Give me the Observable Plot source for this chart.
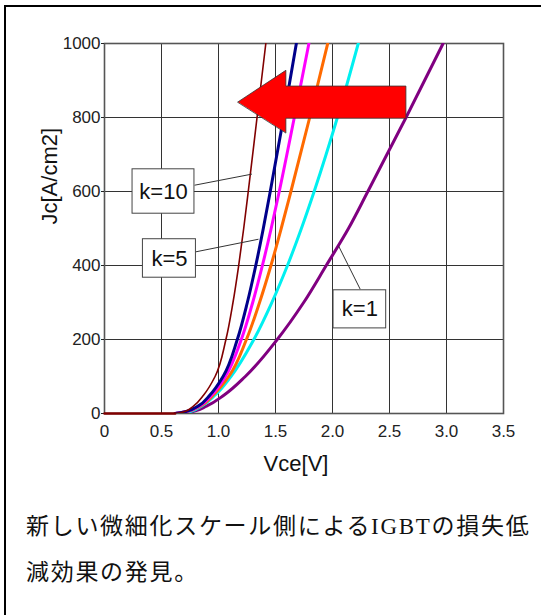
<!DOCTYPE html>
<html>
<head>
<meta charset="utf-8">
<script src="https://cdn.jsdelivr.net/npm/d3@7"></script>
<script src="https://cdn.jsdelivr.net/npm/@observablehq/plot@0.6"></script>
<style>
  html, body { margin: 0; padding: 0; background: #fff; overflow: hidden; }
  body { width: 541px; height: 615px; position: relative; }
  #frame { position: absolute; left: 4px; top: 5px; width: 700px; height: 700px;
           border-left: 2px solid #000; border-top: 2px solid #000; z-index: 2; pointer-events: none; }
  #chart { position: absolute; left: 0; top: 0; z-index: 1; }
  #caption { position: absolute; left: 26px; top: 504px; font-size: 23px; line-height: 46px;
             letter-spacing: 1.7px; color: #111; white-space: nowrap;
             font-family: "Liberation Serif", "Noto Sans CJK JP", serif; }
</style>
</head>
<body>
<div id="chart"></div>
<div id="frame"></div>
<div id="caption">新しい微細化スケール側によるIGBTの損失低<br>減効果の発見。</div>
<script>
// Current density levels (A/cm2) shared by all curves
const jLevels = [0, 5, 20, 50, 100, 200, 300, 400, 500, 600, 800, 1000];
// Vce (V) at each current level for each curve
const seriesNames = ["k=1", "c2", "c3", "c4", "c5", "k=10"];
const vPurple  = [0.62, 0.77, 0.895, 1.05, 1.235, 1.515, 1.747, 1.945, 2.14, 2.31, 2.645, 2.97];
const vCyan    = [0.62, 0.75, 0.851, 0.971, 1.109, 1.31, 1.468, 1.605, 1.727, 1.839, 2.043, 2.226];
const vOrange  = [0.62, 0.72, 0.84, 0.955, 1.09, 1.245, 1.36, 1.46, 1.55, 1.635, 1.80, 1.958];
const vMagenta = [0.62, 0.715, 0.83, 0.94, 1.06, 1.20, 1.30, 1.385, 1.462, 1.533, 1.665, 1.793];
const vNavy    = [0.62, 0.71, 0.82, 0.925, 1.04, 1.165, 1.253, 1.327, 1.393, 1.454, 1.571, 1.683];
const vMaroon  = [0.62, 0.70, 0.78, 0.87, 0.97, 1.065, 1.127, 1.177, 1.221, 1.261, 1.338, 1.415];
const seriesV = [vPurple, vCyan, vOrange, vMagenta, vNavy, vMaroon];
const seriesColors = ["#800080", "#00f0f0", "#ff6a00", "#ff00ff", "#00008b", "#800000"];
const seriesWidths = [3, 3, 3, 3, 3, 1.6];
// Off-state flat segment (J = 0) before the knee
const baseV = [0, 0.62];
const baseJ = [0, 0];

// Axis ticks
const xTicks = [0, 0.5, 1.0, 1.5, 2.0, 2.5, 3.0, 3.5];
const xTickLabels = ["0", "0.5", "1.0", "1.5", "2.0", "2.5", "3.0", "3.5"];
const yTicks = [0, 200, 400, 600, 800, 1000];

// Callout labels (boxes in data units) and leader lines
const labelText = ["k=10", "k=5", "k=1"];
const labelV1 = [0.246, 0.337, 2.009];
const labelV2 = [0.789, 0.802, 2.471];
const labelJ1 = [540, 367, 230];
const labelJ2 = [660, 471, 333];
const leaderV1 = [0.79, 0.802, 2.243];
const leaderJ1 = [617, 437, 336];
const leaderV2 = [1.293, 1.351, 2.053];
const leaderJ2 = [647, 471, 453];

// Arrow polygon (data units)
const arrowV = [1.170, 1.591, 1.591, 2.644, 2.644, 1.591, 1.591];
const arrowJ = [842, 927.6, 885, 885, 798, 798, 759];

// Build tables
const curveRows = seriesNames.map((name, i) =>
  jLevels.map((j, t) => ({k: name, V: seriesV[i][t], J: j})));
const baseRows = baseV.map((v, i) => ({V: v, J: baseJ[i]}));
const labels = labelText.map((t, i) => ({
  t, x1: labelV1[i], x2: labelV2[i], y1: labelJ1[i], y2: labelJ2[i],
  lx1: leaderV1[i], ly1: leaderJ1[i], lx2: leaderV2[i], ly2: leaderJ2[i]
}));
const arrow = arrowV.map((v, i) => ({V: v, J: arrowJ[i]}));

const fontAx = "Liberation Sans, Arial, sans-serif";

const chart = Plot.plot({
  width: 541,
  height: 480,
  marginLeft: 104,
  marginRight: 38,
  marginTop: 43,
  marginBottom: 67,
  style: {fontFamily: fontAx, background: "transparent", color: "#222"},
  x: {domain: [0, 3.5], label: null},
  y: {domain: [0, 1000], label: null},
  marks: [
    Plot.gridX(xTicks, {stroke: "#333", strokeOpacity: 1, strokeWidth: 1}),
    Plot.gridY(yTicks, {stroke: "#333", strokeOpacity: 1, strokeWidth: 1}),
    Plot.frame({stroke: "#555", strokeWidth: 1.6}),
    Plot.axisX({ticks: xTicks, tickFormat: (d, i) => xTickLabels[i], tickSize: 0, tickPadding: 11,
                fontSize: 17, label: null}),
    Plot.axisY({ticks: yTicks, tickFormat: d => String(d), tickSize: 3, tickPadding: 1,
                fontSize: 17, label: null}),
    ...curveRows.map((rows, i) => Plot.line(rows, {
      x: "V", y: "J", stroke: seriesColors[i], strokeWidth: seriesWidths[i],
      curve: "monotone-y", clip: true
    })),
    Plot.line(baseRows, {x: "V", y: "J", stroke: seriesColors[5], strokeWidth: 2.5}),
    Plot.link(labels, {x1: "lx1", y1: "ly1", x2: "lx2", y2: "ly2", stroke: "#333", strokeWidth: 1}),
    Plot.rect(labels, {x1: "x1", x2: "x2", y1: "y1", y2: "y2", fill: "white", stroke: "#444", strokeWidth: 1}),
    Plot.text(labels, {x: d => (d.x1 + d.x2) / 2, y: d => (d.y1 + d.y2) / 2, text: "t",
                       fontSize: 22, fill: "#111", fontFamily: fontAx}),
    Plot.line(arrow, {x: "V", y: "J", fill: "#ff0000", stroke: "#333", strokeWidth: 0.8,
                      curve: "linear-closed"}),
    Plot.text(["Vce[V]"], {x: 1.68, y: 0, dy: 50, text: d => d, fontSize: 22, fill: "#111"}),
    Plot.text(["Jc[A/cm2]"], {frameAnchor: "left", dx: -55, dy: -4, rotate: -90, text: d => d,
                              fontSize: 22, fill: "#111"})
  ]
});
document.getElementById("chart").appendChild(chart);
</script>
</body>
</html>
